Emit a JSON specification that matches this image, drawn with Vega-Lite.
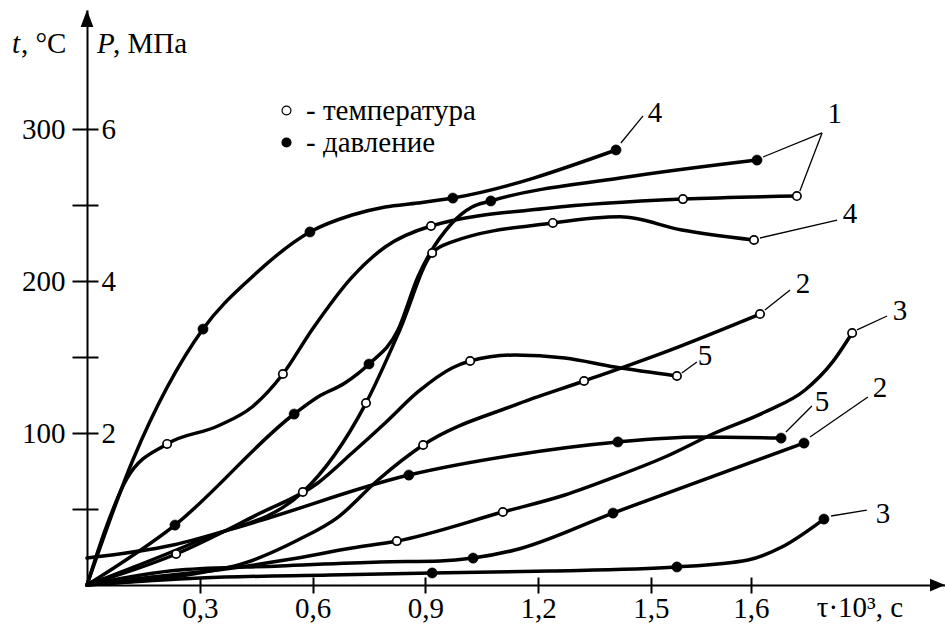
{
  "$schema": "https://vega.github.io/schema/vega-lite/v6.json",
  "width": 858,
  "height": 575,
  "autosize": {"type": "none"},
  "padding": {"left": 87, "top": 10, "right": 0, "bottom": 41},
  "background": "white",
  "config": {"view": {"stroke": null}, "font": "Liberation Serif, Times New Roman, DejaVu Serif, serif"},
  "datasets": {
    "temp": [
      {"c": "1", "tau": 0, "t": 0, "m": 0},
      {"c": "1", "tau": 0.048, "t": 36, "m": 0},
      {"c": "1", "tau": 0.106, "t": 70, "m": 0},
      {"c": "1", "tau": 0.213, "t": 92.8, "m": 1},
      {"c": "1", "tau": 0.348, "t": 104.6, "m": 0},
      {"c": "1", "tau": 0.439, "t": 117.1, "m": 0},
      {"c": "1", "tau": 0.521, "t": 138.8, "m": 1},
      {"c": "1", "tau": 0.598, "t": 167.8, "m": 0},
      {"c": "1", "tau": 0.705, "t": 202.6, "m": 0},
      {"c": "1", "tau": 0.793, "t": 222.4, "m": 0},
      {"c": "1", "tau": 0.915, "t": 236.2, "m": 1},
      {"c": "1", "tau": 1.231, "t": 248, "m": 0},
      {"c": "1", "tau": 1.585, "t": 253.9, "m": 1},
      {"c": "1", "tau": 1.888, "t": 255.9, "m": 1},
      {"c": "4", "tau": 0, "t": 0, "m": 0},
      {"c": "4", "tau": 0.301, "t": 29.6, "m": 0},
      {"c": "4", "tau": 0.574, "t": 61.2, "m": 1},
      {"c": "4", "tau": 0.742, "t": 119.7, "m": 1},
      {"c": "4", "tau": 0.832, "t": 167.8, "m": 0},
      {"c": "4", "tau": 0.918, "t": 218.4, "m": 1},
      {"c": "4", "tau": 0.971, "t": 225.7, "m": 0},
      {"c": "4", "tau": 1.239, "t": 238.2, "m": 1},
      {"c": "4", "tau": 1.418, "t": 242.2, "m": 0},
      {"c": "4", "tau": 1.582, "t": 233.6, "m": 0},
      {"c": "4", "tau": 1.774, "t": 227, "m": 1},
      {"c": "5", "tau": 0, "t": 0, "m": 0},
      {"c": "5", "tau": 0.237, "t": 20.4, "m": 1},
      {"c": "5", "tau": 0.45, "t": 46, "m": 0},
      {"c": "5", "tau": 0.614, "t": 67.1, "m": 0},
      {"c": "5", "tau": 0.705, "t": 86.8, "m": 0},
      {"c": "5", "tau": 0.793, "t": 106.6, "m": 0},
      {"c": "5", "tau": 0.88, "t": 127, "m": 0},
      {"c": "5", "tau": 0.971, "t": 142.8, "m": 0},
      {"c": "5", "tau": 1.019, "t": 147.4, "m": 1},
      {"c": "5", "tau": 1.138, "t": 151.3, "m": 0},
      {"c": "5", "tau": 1.271, "t": 149.3, "m": 0},
      {"c": "5", "tau": 1.404, "t": 143.4, "m": 0},
      {"c": "5", "tau": 1.569, "t": 137.5, "m": 1},
      {"c": "2", "tau": 0, "t": 0, "m": 0},
      {"c": "2", "tau": 0.25, "t": 6, "m": 0},
      {"c": "2", "tau": 0.42, "t": 14.5, "m": 0},
      {"c": "2", "tau": 0.561, "t": 29.6, "m": 0},
      {"c": "2", "tau": 0.668, "t": 44.7, "m": 0},
      {"c": "2", "tau": 0.774, "t": 69.1, "m": 0},
      {"c": "2", "tau": 0.894, "t": 92.1, "m": 1},
      {"c": "2", "tau": 1.138, "t": 118.4, "m": 0},
      {"c": "2", "tau": 1.322, "t": 134.2, "m": 1},
      {"c": "2", "tau": 1.551, "t": 154.6, "m": 0},
      {"c": "2", "tau": 1.79, "t": 178.3, "m": 1},
      {"c": "3", "tau": 0, "t": 0, "m": 0},
      {"c": "3", "tau": 0.173, "t": 5.3, "m": 0},
      {"c": "3", "tau": 0.348, "t": 9.9, "m": 0},
      {"c": "3", "tau": 0.527, "t": 16.4, "m": 0},
      {"c": "3", "tau": 0.705, "t": 24.3, "m": 0},
      {"c": "3", "tau": 0.824, "t": 28.9, "m": 1},
      {"c": "3", "tau": 1.106, "t": 48, "m": 1},
      {"c": "3", "tau": 1.271, "t": 59.2, "m": 0},
      {"c": "3", "tau": 1.404, "t": 71.1, "m": 0},
      {"c": "3", "tau": 1.537, "t": 84.2, "m": 0},
      {"c": "3", "tau": 1.67, "t": 100, "m": 0},
      {"c": "3", "tau": 1.803, "t": 113.8, "m": 0},
      {"c": "3", "tau": 1.91, "t": 128.3, "m": 0},
      {"c": "3", "tau": 1.981, "t": 146.1, "m": 0},
      {"c": "3", "tau": 2.035, "t": 165.8, "m": 1}
    ],
    "press": [
      {"c": "4", "tau": 0, "P": 0, "m": 0},
      {"c": "4", "tau": 0.122, "P": 1.645, "m": 0},
      {"c": "4", "tau": 0.3085, "P": 3.368, "m": 1},
      {"c": "4", "tau": 0.439, "P": 4.053, "m": 0},
      {"c": "4", "tau": 0.593, "P": 4.645, "m": 1},
      {"c": "4", "tau": 0.705, "P": 4.868, "m": 0},
      {"c": "4", "tau": 0.793, "P": 4.974, "m": 0},
      {"c": "4", "tau": 0.88, "P": 5.026, "m": 0},
      {"c": "4", "tau": 0.973, "P": 5.092, "m": 1},
      {"c": "4", "tau": 1.407, "P": 5.724, "m": 1},
      {"c": "1", "tau": 0, "P": 0, "m": 0},
      {"c": "1", "tau": 0.234, "P": 0.789, "m": 1},
      {"c": "1", "tau": 0.551, "P": 2.25, "m": 1},
      {"c": "1", "tau": 0.614, "P": 2.474, "m": 0},
      {"c": "1", "tau": 0.686, "P": 2.658, "m": 0},
      {"c": "1", "tau": 0.75, "P": 2.908, "m": 1},
      {"c": "1", "tau": 0.827, "P": 3.355, "m": 0},
      {"c": "1", "tau": 0.88, "P": 4.053, "m": 0},
      {"c": "1", "tau": 0.971, "P": 4.763, "m": 0},
      {"c": "1", "tau": 1.024, "P": 4.974, "m": 0},
      {"c": "1", "tau": 1.074, "P": 5.053, "m": 1},
      {"c": "1", "tau": 1.418, "P": 5.355, "m": 0},
      {"c": "1", "tau": 1.782, "P": 5.592, "m": 1},
      {"c": "5", "tau": 0, "P": 0.355, "m": 0},
      {"c": "5", "tau": 0.229, "P": 0.526, "m": 0},
      {"c": "5", "tau": 0.439, "P": 0.816, "m": 0},
      {"c": "5", "tau": 0.856, "P": 1.447, "m": 1},
      {"c": "5", "tau": 1.138, "P": 1.711, "m": 0},
      {"c": "5", "tau": 1.412, "P": 1.882, "m": 1},
      {"c": "5", "tau": 1.625, "P": 1.947, "m": 0},
      {"c": "5", "tau": 1.846, "P": 1.934, "m": 1},
      {"c": "2", "tau": 0, "P": 0, "m": 0},
      {"c": "2", "tau": 0.247, "P": 0.197, "m": 0},
      {"c": "2", "tau": 0.513, "P": 0.25, "m": 0},
      {"c": "2", "tau": 0.779, "P": 0.303, "m": 0},
      {"c": "2", "tau": 0.939, "P": 0.316, "m": 0},
      {"c": "2", "tau": 1.027, "P": 0.355, "m": 1},
      {"c": "2", "tau": 1.138, "P": 0.461, "m": 0},
      {"c": "2", "tau": 1.399, "P": 0.947, "m": 1},
      {"c": "2", "tau": 1.907, "P": 1.868, "m": 1},
      {"c": "3", "tau": 0, "P": 0, "m": 0},
      {"c": "3", "tau": 0.301, "P": 0.092, "m": 0},
      {"c": "3", "tau": 0.646, "P": 0.132, "m": 0},
      {"c": "3", "tau": 0.918, "P": 0.158, "m": 1},
      {"c": "3", "tau": 1.231, "P": 0.184, "m": 0},
      {"c": "3", "tau": 1.569, "P": 0.237, "m": 1},
      {"c": "3", "tau": 1.758, "P": 0.329, "m": 0},
      {"c": "3", "tau": 1.848, "P": 0.5, "m": 0},
      {"c": "3", "tau": 1.96, "P": 0.868, "m": 1}
    ],
    "leaders": [
      {"id": "4P", "tau": 1.42, "t": 290.8},
      {"id": "4P", "tau": 1.479, "t": 308.6},
      {"id": "1a", "tau": 1.798, "t": 281.6},
      {"id": "1a", "tau": 1.955, "t": 297.4},
      {"id": "1b", "tau": 1.955, "t": 297.4},
      {"id": "1b", "tau": 1.896, "t": 259.2},
      {"id": "4T", "tau": 1.79, "t": 228.3},
      {"id": "4T", "tau": 1.995, "t": 240.1},
      {"id": "2T", "tau": 1.803, "t": 180.9},
      {"id": "2T", "tau": 1.87, "t": 194.1},
      {"id": "3T", "tau": 2.048, "t": 167.8},
      {"id": "3T", "tau": 2.128, "t": 177},
      {"id": "5T", "tau": 1.582, "t": 139.5},
      {"id": "5T", "tau": 1.622, "t": 146.7},
      {"id": "5P", "tau": 1.859, "t": 100.7},
      {"id": "5P", "tau": 1.928, "t": 117.8},
      {"id": "2P", "tau": 1.923, "t": 97.4},
      {"id": "2P", "tau": 2.077, "t": 123.7},
      {"id": "3P", "tau": 1.979, "t": 45.4},
      {"id": "3P", "tau": 2.074, "t": 49.3}
    ],
    "curveLabels": [
      {"text": "4", "tau": 1.511, "t": 304.6},
      {"text": "1", "tau": 1.989, "t": 303.9},
      {"text": "4", "tau": 2.029, "t": 238.2},
      {"text": "2", "tau": 1.904, "t": 192.1},
      {"text": "3", "tau": 2.162, "t": 174.3},
      {"text": "5", "tau": 1.644, "t": 144.7},
      {"text": "5", "tau": 1.955, "t": 114.5},
      {"text": "2", "tau": 2.109, "t": 123.7},
      {"text": "3", "tau": 2.117, "t": 40.8}
    ],
    "titlesItalic": [
      {"text": "t", "tau": -0.1995, "t": 350},
      {"text": "P", "tau": 0.0266, "t": 350}
    ],
    "titlesRegular": [
      {"text": ", °C", "tau": -0.1755, "t": 350},
      {"text": ", МПа", "tau": 0.0691, "t": 350},
      {"text": "τ·10³, с", "tau": 1.941, "t": -21.05}
    ],
    "arrowUp": [{"tau": 0, "t": 372.7}],
    "arrowRight": [{"tau": 2.262, "t": 0}]
  },
  "resolve": {"scale": {"y": "independent"}, "axis": {"x": "independent", "y": "independent"}},
  "layer": [
    {
      "data": {"name": "temp"},
      "mark": {"type": "line", "interpolate": "monotone", "stroke": "black", "strokeWidth": 3.5, "strokeCap": "round"},
      "encoding": {
        "x": {"field": "tau", "type": "quantitative", "scale": {"domain": [0, 2.282], "nice": false, "zero": false},
          "axis": {"orient": "bottom", "values": [0.3, 0.6, 0.9, 1.2, 1.5, 1.766],
            "labelExpr": "datum.value > 1.7 ? '1,6' : replace(format(datum.value, '.1f'), '.', ',')",
            "title": null, "grid": false, "domain": true, "domainColor": "black", "domainWidth": 2,
            "ticks": true, "tickColor": "black", "tickWidth": 2, "tickSize": 8,
            "labelFont": "Liberation Serif, Times New Roman, DejaVu Serif, serif", "labelFontSize": 29, "labelColor": "black", "labelPadding": 1,
            "labelFlush": false, "labelOverlap": false, "labelBound": false}},
        "y": {"field": "t", "type": "quantitative", "scale": {"domain": [0, 378.3], "nice": false, "zero": false},
          "axis": {"orient": "left", "values": [50, 100, 150, 200, 250, 300],
            "labelExpr": "datum.value % 100 == 0 ? datum.label : ''",
            "title": null, "grid": false, "domain": true, "domainColor": "black", "domainWidth": 2,
            "tickColor": "black", "tickWidth": 2, "tickSize": 15,
            "labelFont": "Liberation Serif, Times New Roman, DejaVu Serif, serif", "labelFontSize": 29, "labelColor": "black", "labelPadding": 7,
            "labelFlush": false, "labelOverlap": false, "labelBound": false}},
        "detail": {"field": "c", "type": "nominal"}
      }
    },
    {
      "data": {"name": "press"},
      "mark": {"type": "line", "interpolate": "monotone", "stroke": "black", "strokeWidth": 3.5, "strokeCap": "round"},
      "encoding": {
        "x": {"field": "tau", "type": "quantitative", "scale": {"domain": [0, 2.282], "nice": false, "zero": false},
          "axis": {"orient": "top", "offset": -575, "values": [0.3, 0.6, 0.9, 1.2, 1.5, 1.766],
            "labels": false, "domain": false, "title": null, "grid": false,
            "tickColor": "black", "tickWidth": 2, "tickSize": 8}},
        "y": {"field": "P", "type": "quantitative", "scale": {"domain": [0, 7.566], "nice": false, "zero": false},
          "axis": {"orient": "right", "offset": -858, "values": [1, 2, 3, 4, 5, 6],
            "labelExpr": "datum.value % 2 == 0 ? datum.label : ''",
            "title": null, "grid": false, "domain": false,
            "tickColor": "black", "tickWidth": 2, "tickSize": 11,
            "labelFont": "Liberation Serif, Times New Roman, DejaVu Serif, serif", "labelFontSize": 29, "labelColor": "black", "labelPadding": 3,
            "labelFlush": false, "labelOverlap": false, "labelBound": false}},
        "detail": {"field": "c", "type": "nominal"}
      }
    },
    {
      "data": {"name": "temp"},
      "transform": [{"filter": "datum.m == 1"}],
      "mark": {"type": "point", "shape": "circle", "filled": true, "size": 70, "stroke": "black", "strokeWidth": 1.7, "opacity": 1},
      "encoding": {
        "x": {"field": "tau", "type": "quantitative", "scale": {"domain": [0, 2.282], "nice": false, "zero": false}, "axis": null},
        "y": {"field": "t", "type": "quantitative", "scale": {"domain": [0, 378.3], "nice": false, "zero": false}, "axis": null},
        "fill": {"datum": "температура", "type": "nominal",
          "scale": {"domain": ["температура", "давление"], "range": ["white", "black"]},
          "legend": {"orient": "none", "legendX": 185, "legendY": 86, "title": null, "padding": 0,
            "labelFont": "Liberation Serif, Times New Roman, DejaVu Serif, serif", "labelFontSize": 29, "labelColor": "black", "labelLimit": 400,
            "labelExpr": "'- ' + datum.label", "labelOffset": 5, "rowPadding": 2,
            "symbolType": "circle", "symbolSize": 80, "symbolStrokeColor": "black", "symbolStrokeWidth": 1.2}}
      }
    },
    {
      "data": {"name": "press"},
      "transform": [{"filter": "datum.m == 1"}],
      "mark": {"type": "point", "shape": "circle", "filled": true, "size": 105, "stroke": "black", "strokeWidth": 0.5, "opacity": 1},
      "encoding": {
        "x": {"field": "tau", "type": "quantitative", "scale": {"domain": [0, 2.282], "nice": false, "zero": false}, "axis": null},
        "y": {"field": "P", "type": "quantitative", "scale": {"domain": [0, 7.566], "nice": false, "zero": false}, "axis": null},
        "fill": {"datum": "давление", "type": "nominal"}
      }
    },
    {
      "data": {"name": "leaders"},
      "mark": {"type": "line", "stroke": "black", "strokeWidth": 1.3},
      "encoding": {
        "x": {"field": "tau", "type": "quantitative", "scale": {"domain": [0, 2.282], "nice": false, "zero": false}, "axis": null},
        "y": {"field": "t", "type": "quantitative", "scale": {"domain": [0, 378.3], "nice": false, "zero": false}, "axis": null},
        "detail": {"field": "id", "type": "nominal"}
      }
    },
    {
      "data": {"name": "curveLabels"},
      "mark": {"type": "text", "font": "Liberation Serif, Times New Roman, DejaVu Serif, serif", "fontSize": 29, "align": "center", "baseline": "alphabetic", "color": "black"},
      "encoding": {
        "x": {"field": "tau", "type": "quantitative", "scale": {"domain": [0, 2.282], "nice": false, "zero": false}, "axis": null},
        "y": {"field": "t", "type": "quantitative", "scale": {"domain": [0, 378.3], "nice": false, "zero": false}, "axis": null},
        "text": {"field": "text", "type": "nominal"}
      }
    },
    {
      "data": {"name": "titlesItalic"},
      "mark": {"type": "text", "font": "Liberation Serif, Times New Roman, DejaVu Serif, serif", "fontSize": 29, "fontStyle": "italic", "align": "left", "baseline": "alphabetic", "color": "black"},
      "encoding": {
        "x": {"field": "tau", "type": "quantitative", "scale": {"domain": [0, 2.282], "nice": false, "zero": false}, "axis": null},
        "y": {"field": "t", "type": "quantitative", "scale": {"domain": [0, 378.3], "nice": false, "zero": false}, "axis": null},
        "text": {"field": "text", "type": "nominal"}
      }
    },
    {
      "data": {"name": "titlesRegular"},
      "mark": {"type": "text", "font": "Liberation Serif, Times New Roman, DejaVu Serif, serif", "fontSize": 29, "align": "left", "baseline": "alphabetic", "color": "black"},
      "encoding": {
        "x": {"field": "tau", "type": "quantitative", "scale": {"domain": [0, 2.282], "nice": false, "zero": false}, "axis": null},
        "y": {"field": "t", "type": "quantitative", "scale": {"domain": [0, 378.3], "nice": false, "zero": false}, "axis": null},
        "text": {"field": "text", "type": "nominal"}
      }
    },
    {
      "data": {"name": "arrowUp"},
      "mark": {"type": "point", "shape": "M0,-1L0.75,1L-0.75,1Z", "size": 289, "filled": true, "fill": "black", "strokeWidth": 0, "opacity": 1},
      "encoding": {
        "x": {"field": "tau", "type": "quantitative", "scale": {"domain": [0, 2.282], "nice": false, "zero": false}, "axis": null},
        "y": {"field": "t", "type": "quantitative", "scale": {"domain": [0, 378.3], "nice": false, "zero": false}, "axis": null}
      }
    },
    {
      "data": {"name": "arrowRight"},
      "mark": {"type": "point", "shape": "M1,0L-1,0.85L-1,-0.85Z", "size": 225, "filled": true, "fill": "black", "strokeWidth": 0, "opacity": 1},
      "encoding": {
        "x": {"field": "tau", "type": "quantitative", "scale": {"domain": [0, 2.282], "nice": false, "zero": false}, "axis": null},
        "y": {"field": "t", "type": "quantitative", "scale": {"domain": [0, 378.3], "nice": false, "zero": false}, "axis": null}
      }
    }
  ]
}
